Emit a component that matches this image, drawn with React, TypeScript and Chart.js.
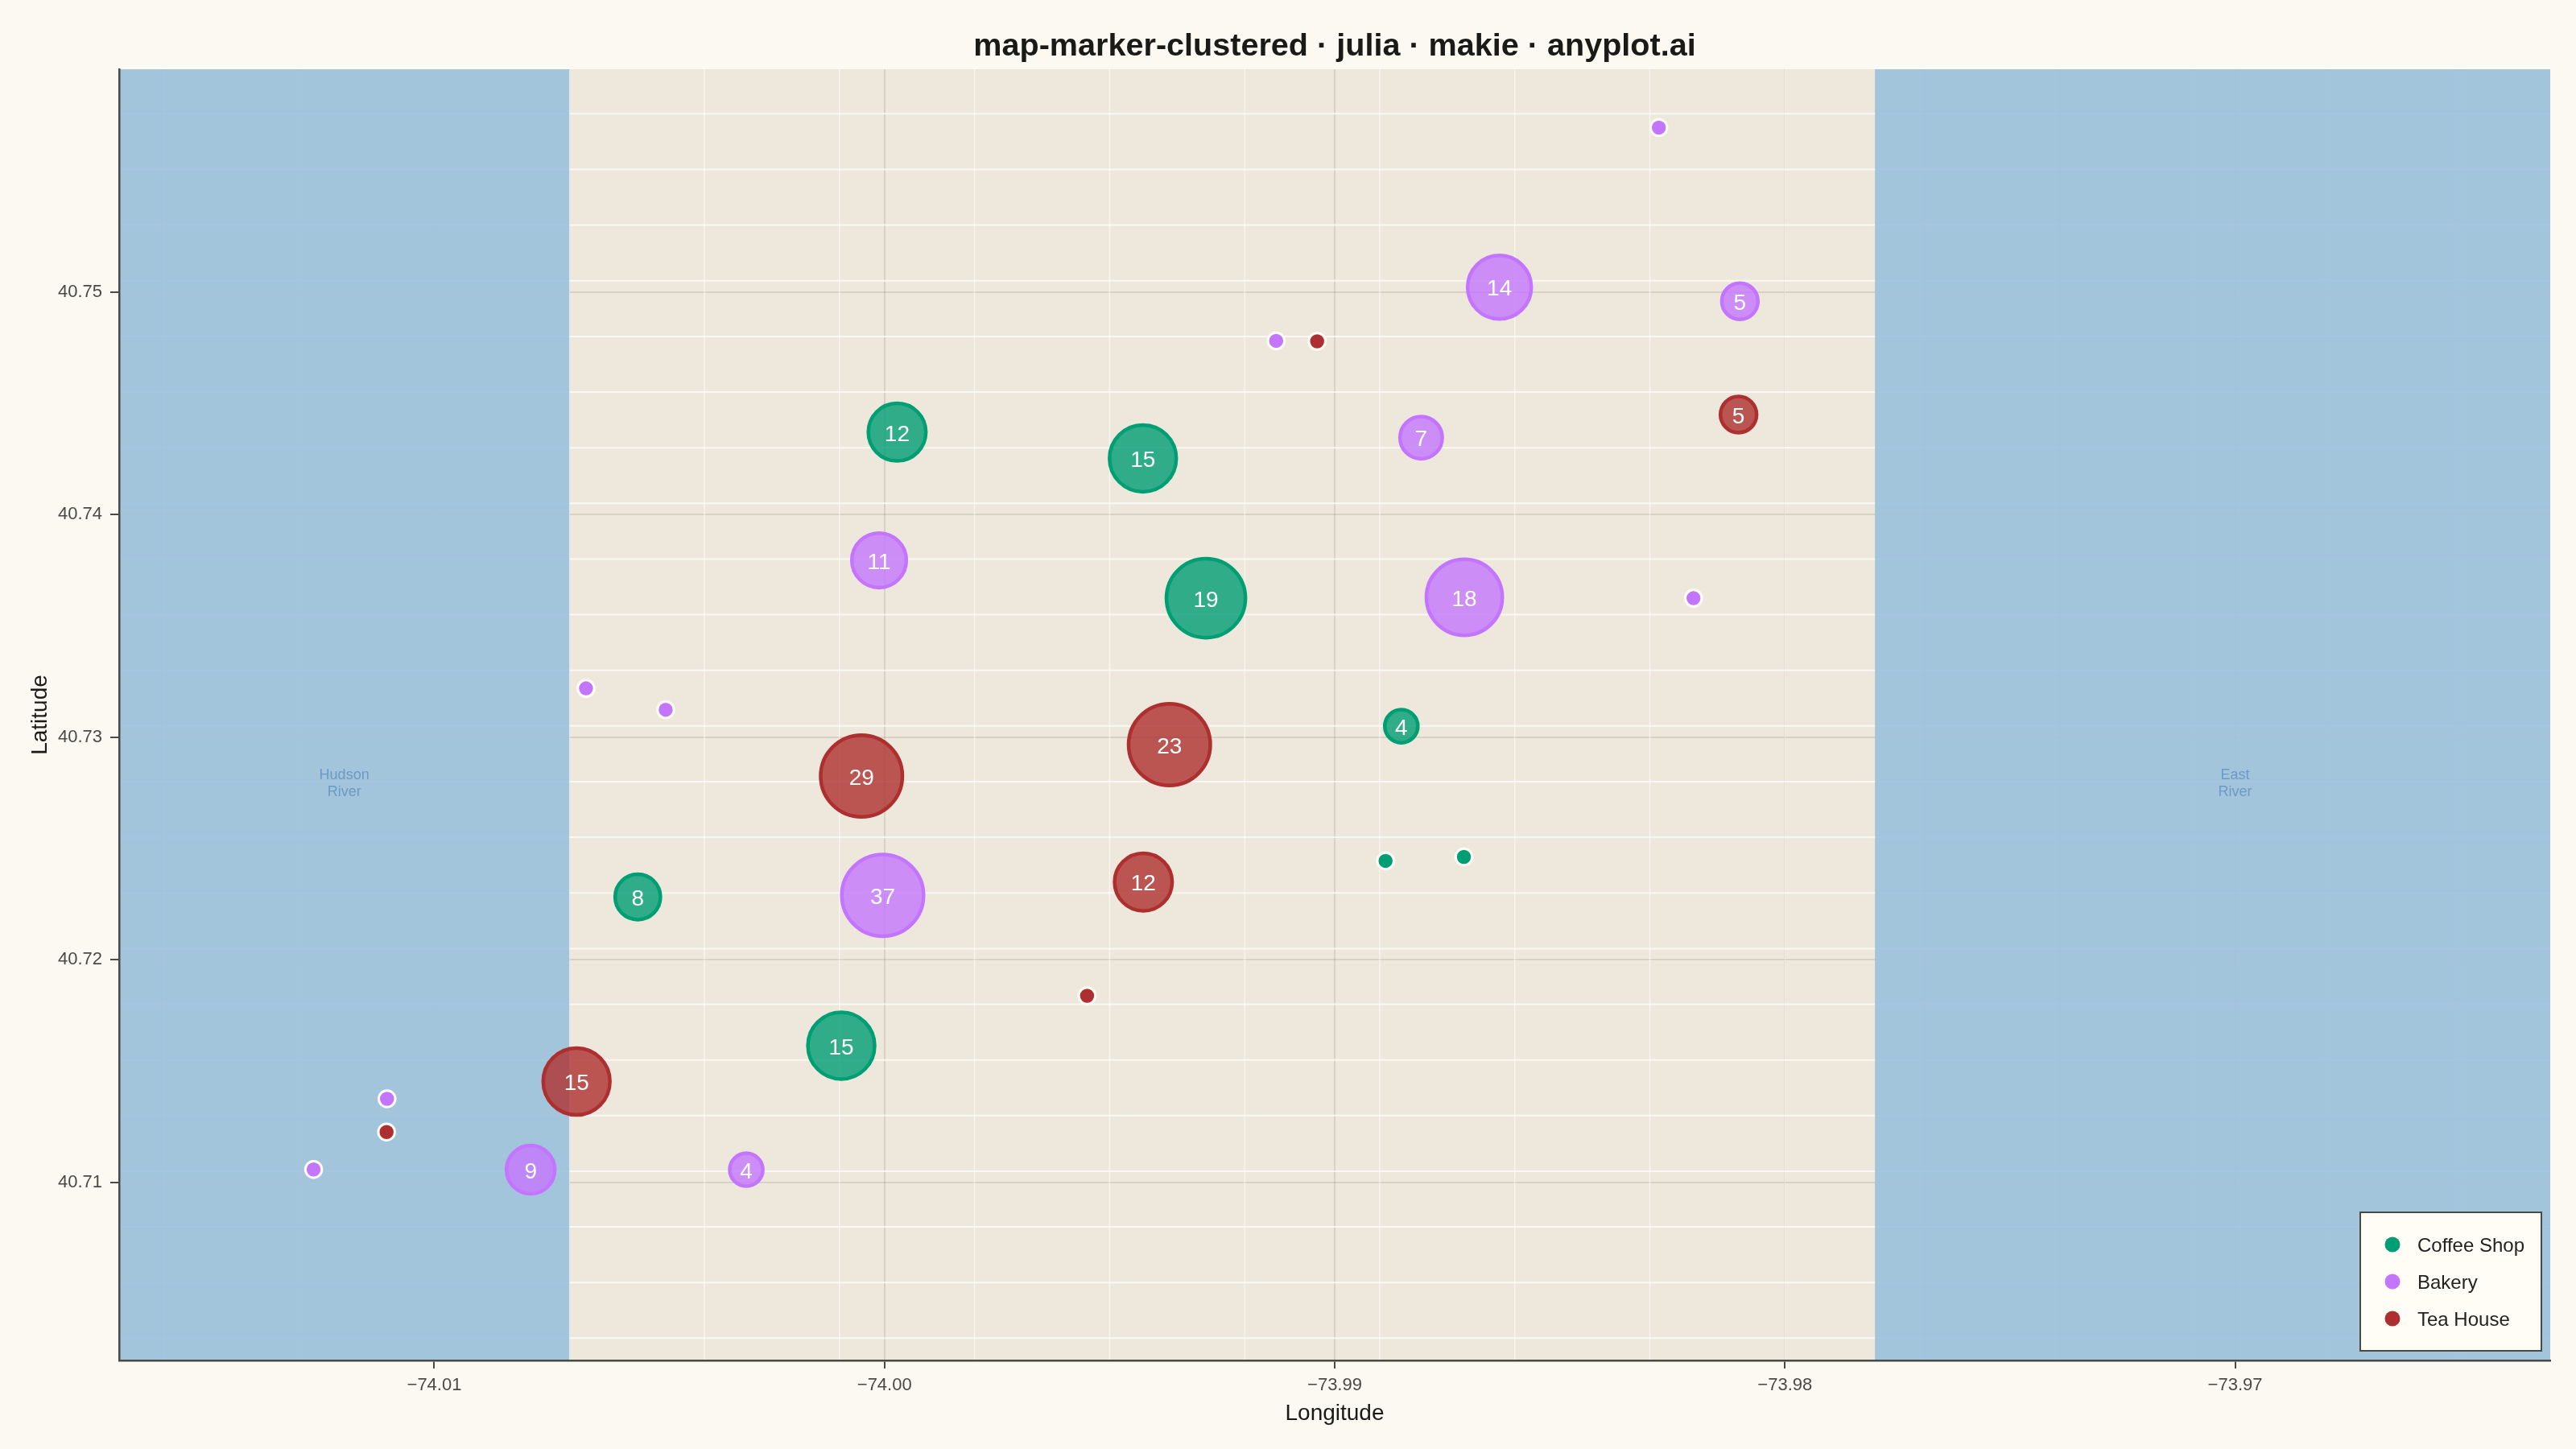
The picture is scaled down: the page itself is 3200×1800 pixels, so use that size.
import React, { useEffect, useRef } from "react";
import { Chart, registerables } from "chart.js";

Chart.register(...registerables);

const seriesNames = ["Coffee Shop", "Bakery", "Tea House"];
const seriesColors = ["#009E73", "#C475FD", "#AE2F2F"];

const coffeeLon = [-73.99972, -73.99426, -73.99286, -73.98852, -73.98887, -73.98713, -74.00548, -74.00096];
const coffeeLat = [40.7437, 40.74252, 40.73624, 40.73049, 40.72444, 40.72462, 40.72282, 40.71614];
const coffeeCount = [12, 15, 19, 4, 1, 1, 8, 15];

const bakeryLon = [-73.9828, -73.98634, -73.981, -73.9913, -73.98808, -74.00012, -73.98712, -73.98203, -74.00663, -74.00486, -74.00004, -74.01105, -74.01268, -74.00786, -74.00307];
const bakeryLat = [40.75738, 40.75021, 40.74958, 40.7478, 40.74345, 40.73794, 40.73628, 40.73624, 40.73219, 40.73123, 40.72289, 40.71375, 40.71058, 40.71057, 40.71057];
const bakeryCount = [1, 14, 5, 1, 7, 11, 18, 1, 1, 1, 37, 1, 1, 9, 4];

const teaLon = [-73.99039, -73.98103, -73.99367, -74.00051, -73.99425, -73.9955, -74.00684, -74.01106];
const teaLat = [40.74778, 40.74449, 40.72966, 40.72825, 40.72349, 40.71838, 40.71453, 40.71226];
const teaCount = [1, 5, 23, 29, 12, 1, 15, 1];

const xTickValues = [-74.01, -74.0, -73.99, -73.98, -73.97];
const yTickValues = [40.71, 40.72, 40.73, 40.74, 40.75];
const xRange = [-74.017, -73.963];
const yRange = [40.702, 40.76];
const landLonEdges = [-74.007, -73.978];
const streetLons = [-74.016, -74.013, -74.01, -74.007, -74.004, -74.001, -73.998, -73.995, -73.992, -73.989, -73.986, -73.983, -73.98, -73.977, -73.974, -73.971, -73.968, -73.965];
const streetLats = [40.703, 40.7055, 40.708, 40.7105, 40.713, 40.7155, 40.718, 40.7205, 40.723, 40.7255, 40.728, 40.7305, 40.733, 40.7355, 40.738, 40.7405, 40.743, 40.7455, 40.748, 40.7505, 40.753, 40.7555, 40.758];
const riverLabels = [
  { lon: -74.012, lat: 40.7279, lines: ["Hudson", "River"] },
  { lon: -73.97, lat: 40.7279, lines: ["East", "River"] },
];

const FONT = '"Liberation Sans", Arial, sans-serif';
const BG = "#FBF9F2";
const LAND = "#EEE8DC";
const WATER = "rgba(157,194,220,0.93)";
const INK = "#4A4A44";

function diameterOf(count: number) {
  if (count <= 1) return 23.5;
  return Math.min(106, 30.4 + 3.8 * count);
}
function radiusOf(count: number) {
  return (diameterOf(count) - (count <= 1 ? 3 : 4.5)) / 2;
}
function withAlpha(hex: string, a: number) {
  const n = parseInt(hex.slice(1), 16);
  return `rgba(${(n >> 16) & 255},${(n >> 8) & 255},${n & 255},${a})`;
}
function points(lon: number[], lat: number[], count: number[]) {
  return lon.map((x, i) => ({ x, y: lat[i], r: radiusOf(count[i]), count: count[i] }));
}
function dataset(i: number, lon: number[], lat: number[], count: number[]) {
  const color = seriesColors[i];
  return {
    label: seriesNames[i],
    data: points(lon, lat, count),
    backgroundColor: count.map((c) => (c <= 1 ? color : withAlpha(color, 0.8))),
    borderColor: count.map((c) => (c <= 1 ? "#FFFDF6" : color)),
    borderWidth: count.map((c) => (c <= 1 ? 3 : 4.5)),
    hoverRadius: 0,
  };
}

const mapLayers = {
  id: "mapLayers",
  beforeDraw(chart: any) {
    const { ctx, chartArea: a, width, height } = chart;
    ctx.save();
    ctx.fillStyle = BG;
    ctx.fillRect(0, 0, width, height);
    ctx.fillStyle = LAND;
    ctx.fillRect(a.left, a.top, a.right - a.left, a.bottom - a.top);
    ctx.restore();
  },
  beforeDatasetsDraw(chart: any) {
    const { ctx, chartArea: a, scales } = chart;
    const { x, y } = scales;
    ctx.save();
    ctx.beginPath();
    ctx.rect(a.left, a.top, a.right - a.left, a.bottom - a.top);
    ctx.clip();
    ctx.strokeStyle = "rgba(255,255,255,0.55)";
    ctx.lineWidth = 1.5;
    for (const lon of streetLons) {
      const px = x.getPixelForValue(lon);
      ctx.beginPath();
      ctx.moveTo(px, a.top);
      ctx.lineTo(px, a.bottom);
      ctx.stroke();
    }
    ctx.strokeStyle = "rgba(255,255,255,0.7)";
    ctx.lineWidth = 2;
    for (const lat of streetLats) {
      const py = y.getPixelForValue(lat);
      ctx.beginPath();
      ctx.moveTo(a.left, py);
      ctx.lineTo(a.right, py);
      ctx.stroke();
    }
    const l = x.getPixelForValue(landLonEdges[0]);
    const r = x.getPixelForValue(landLonEdges[1]);
    ctx.fillStyle = WATER;
    ctx.fillRect(a.left, a.top, l - a.left, a.bottom - a.top);
    ctx.fillRect(r, a.top, a.right - r, a.bottom - a.top);
    ctx.fillStyle = "rgba(74,126,184,0.62)";
    ctx.font = `18px ${FONT}`;
    ctx.textAlign = "center";
    ctx.textBaseline = "middle";
    for (const label of riverLabels) {
      const px = x.getPixelForValue(label.lon);
      const py = y.getPixelForValue(label.lat);
      label.lines.forEach((t, i) => ctx.fillText(t, px, py + (i - (label.lines.length - 1) / 2) * 21));
    }
    ctx.restore();
  },
  afterDatasetsDraw(chart: any) {
    const { ctx, chartArea: a } = chart;
    ctx.save();
    ctx.fillStyle = "#FFFFFF";
    ctx.font = `28px ${FONT}`;
    ctx.textAlign = "center";
    ctx.textBaseline = "middle";
    chart.data.datasets.forEach((ds: any, di: number) => {
      const meta = chart.getDatasetMeta(di);
      ds.data.forEach((p: any, i: number) => {
        if (p.count > 1) ctx.fillText(String(p.count), meta.data[i].x, meta.data[i].y + 3);
      });
    });
    const bx = a.right - 236;
    const by = a.bottom - 184;
    ctx.fillStyle = "#FFFDF6";
    ctx.fillRect(bx, by, 225, 172);
    ctx.strokeStyle = INK;
    ctx.lineWidth = 2;
    ctx.strokeRect(bx, by, 225, 172);
    ctx.font = `24px ${FONT}`;
    ctx.textAlign = "left";
    seriesNames.forEach((name, i) => {
      const cy = by + 40 + i * 46;
      ctx.beginPath();
      ctx.arc(bx + 40, cy, 9.5, 0, Math.PI * 2);
      ctx.fillStyle = seriesColors[i];
      ctx.fill();
      ctx.fillStyle = "#22221F";
      ctx.fillText(name, bx + 71, cy + 2);
    });
    ctx.restore();
  },
};

const tickText = (v: any) => Number(v).toFixed(2).replace("-", "\u2212");

export default function App() {
  const ref = useRef<HTMLCanvasElement>(null);
  useEffect(() => {
    const chart = new Chart(ref.current as HTMLCanvasElement, {
      type: "bubble",
      data: {
        datasets: [
          dataset(0, coffeeLon, coffeeLat, coffeeCount),
          dataset(1, bakeryLon, bakeryLat, bakeryCount),
          dataset(2, teaLon, teaLat, teaCount),
        ] as any,
      },
      plugins: [mapLayers as any],
      options: {
        responsive: false,
        animation: false,
        devicePixelRatio: 1,
        events: [],
        layout: { autoPadding: false, padding: { left: 0, right: 32, top: 0, bottom: 0 } },
        plugins: {
          legend: { display: false },
          tooltip: { enabled: false },
          title: {
            display: true,
            text: "map-marker-clustered \u00b7 julia \u00b7 makie \u00b7 anyplot.ai",
            color: "#1A1A17",
            font: { family: FONT, size: 39.6, weight: "bold", lineHeight: 1.2 },
            padding: { top: 34, bottom: 4.5 },
            fullSize: false,
          },
        },
        scales: {
          x: {
            type: "linear",
            min: xRange[0],
            max: xRange[1],
            afterBuildTicks(s: any) {
              s.ticks = xTickValues.map((value) => ({ value }));
            },
            afterFit(s: any) {
              s.height = 110;
            },
            ticks: {
              callback: tickText,
              color: INK,
              font: { family: FONT, size: 22 },
              padding: 8,
              maxRotation: 0,
              autoSkip: false,
            },
            grid: { color: "rgba(60,55,40,0.12)", lineWidth: 2, tickColor: INK, tickLength: 10, z: -1, tickWidth: 2 },
            border: { color: INK, width: 2.5, z: 1 },
            title: {
              display: true,
              text: "Longitude",
              color: "#1A1A17",
              font: { family: FONT, size: 28, lineHeight: 1.2 },
              padding: { top: 0, bottom: 27 },
            },
          },
          y: {
            type: "linear",
            min: yRange[0],
            max: yRange[1],
            afterBuildTicks(s: any) {
              s.ticks = yTickValues.map((value) => ({ value }));
            },
            afterFit(s: any) {
              s.width = 148;
            },
            ticks: {
              callback: tickText,
              color: INK,
              font: { family: FONT, size: 22 },
              padding: 10,
              autoSkip: false,
            },
            grid: { color: "rgba(60,55,40,0.12)", lineWidth: 2, tickColor: INK, tickLength: 11, z: -1, tickWidth: 2 },
            border: { color: INK, width: 2.5, z: 1 },
            title: {
              display: true,
              text: "Latitude",
              color: "#1A1A17",
              font: { family: FONT, size: 28, lineHeight: 1.2 },
              padding: { top: 33, bottom: 0 },
            },
          },
        },
      } as any,
    });
    return () => chart.destroy();
  }, []);
  return (
    <div style={{ position: "fixed", left: 0, top: 0, width: 3200, height: 1800, background: BG }}>
      <canvas ref={ref} width={3200} height={1800} style={{ display: "block", width: 3200, height: 1800 }} />
    </div>
  );
}
